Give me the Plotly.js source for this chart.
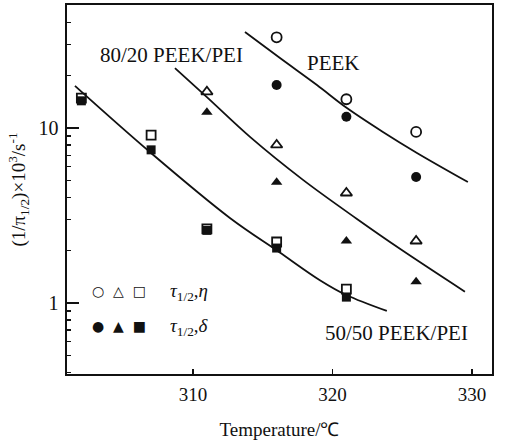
<!DOCTYPE html>
<html><head><meta charset="utf-8">
<script src="https://cdn.plot.ly/plotly-3.0.1.min.js"></script>
<style>html,body{margin:0;padding:0;background:#fff}</style>
</head><body><div id="chart" style="width:506px;height:441px"></div>
<script>
// measured points (temperature in °C, rate ×10^3 s^-1)
const tempPEEK = [316, 321, 326];
const peekEta = [33.0, 14.6, 9.5];
const peekDelta = [17.6, 11.6, 5.25];
const temp8020 = [311, 316, 321, 326];
const blend8020Eta = [16.1, 8.0, 4.25, 2.26];
const blend8020Delta = [12.3, 4.9, 2.26, 1.32];
const temp5050 = [302, 307, 311, 316, 321];
const blend5050Eta = [14.8, 9.1, 2.65, 2.23, 1.2];
const blend5050Delta = [14.3, 7.5, 2.6, 2.06, 1.08];
// fitted curves
const fitPEEKT = [313.73, 316.24, 318.89, 321.04, 323.62, 326.06, 329.71];
const fitPEEKY = [35.4, 25.1, 17.6, 13.0, 9.49, 7.2, 4.91];
const fit8020T = [308.71, 311.0, 314.09, 317.89, 321.76, 324.84, 329.5];
const fit8020Y = [22.0, 15.0, 8.89, 5.05, 3.02, 2.04, 1.16];
const fit5050T = [301.54, 306.9, 312.65, 316.2, 319.1, 321.0, 323.9];
const fit5050Y = [17.4, 7.3, 3.06, 1.95, 1.35, 1.11, 0.90];
// ticks
const xTickVals = [310, 320, 330];
const yTickVals = [1, 10];
const yTickText = ['1', '10'];
const yMinorVals = [0.4, 0.5, 0.6, 0.7, 0.8, 0.9, 2, 3, 4, 5, 6, 7, 8, 9, 20, 30, 40, 50];

const serif = 'Liberation Serif, Times New Roman, serif';
const ink = '#111';

function fit(x, y) {
  return {x: x, y: y, mode: 'lines', type: 'scatter', line: {color: ink, width: 1.8, shape: 'spline', smoothing: 1}, showlegend: false, hoverinfo: 'skip'};
}
function pts(x, y, sym, size) {
  const open = sym.indexOf('open') >= 0;
  return {x: x, y: y, mode: 'markers', type: 'scatter', showlegend: false,
    marker: {symbol: sym, size: size, color: ink, line: {color: ink, width: open ? 1.8 : 0}}};
}

const data = [
  fit(fitPEEKT, fitPEEKY), fit(fit8020T, fit8020Y), fit(fit5050T, fit5050Y),
  pts(tempPEEK, peekDelta, 'circle', 10),
  pts(temp8020, blend8020Delta, 'triangle-up', 10),
  pts(temp5050, blend5050Delta, 'square', 9),
  pts(tempPEEK, peekEta, 'circle-open', 10),
  pts(temp8020, blend8020Eta, 'triangle-up-open', 10),
  pts(temp5050, blend5050Eta, 'square-open', 9)
];

function note(x, y, text, size, family, xanchor) {
  return {xref: 'paper', yref: 'paper', x: x, y: y, text: text, showarrow: false,
    xanchor: xanchor || 'center', yanchor: 'middle',
    font: {family: family || serif, size: size, color: ink}};
}

const layout = {
  width: 506, height: 441,
  margin: {l: 67, r: 14, t: 5, b: 67},
  paper_bgcolor: '#fff', plot_bgcolor: '#fff',
  font: {family: serif, color: ink},
  xaxis: {
    range: [300.97, 331.44], tickmode: 'array', tickvals: xTickVals,
    ticks: 'inside', ticklen: 5, tickwidth: 1.2, tickcolor: ink,
    showline: true, mirror: true, linewidth: 1.6, linecolor: ink,
    showgrid: false, zeroline: false, ticklabelstandoff: 3,
    tickfont: {family: serif, size: 19, color: ink},
    title: {text: 'Temperature/℃', font: {family: serif, size: 19, color: ink}, standoff: 18}
  },
  yaxis: {
    type: 'log', range: [-0.406, 1.703], tickmode: 'array', tickvals: yTickVals, ticktext: yTickText,
    ticks: 'inside', ticklen: 12, tickwidth: 1.4, tickcolor: ink,
    minor: {tickmode: 'array', tickvals: yMinorVals, ticks: 'inside', ticklen: 4, tickwidth: 1.2, tickcolor: ink, showgrid: false},
    showline: true, mirror: true, linewidth: 1.6, linecolor: ink,
    showgrid: false, zeroline: false, ticklabelstandoff: 3,
    tickfont: {family: serif, size: 20, color: ink},
    title: {text: '(1/π<sub>1/2</sub>)×10<sup>3</sup>/s<sup>-1</sup>', font: {family: serif, size: 19, color: ink}, standoff: 8}
  },
  annotations: [
    note(0.246, 0.8645, '80/20 PEEK/PEI', 21),
    note(0.626, 0.843, 'PEEK', 21),
    note(0.776, 0.111, '50/50 PEEK/PEI', 21),
    note(0.1235, 0.224, '○  △  □', 14, 'DejaVu Sans'),
    note(0.1235, 0.129, '●  ▲  ■', 14, 'DejaVu Sans'),
    note(0.2376, 0.222, '<i>τ</i><sub>1/2</sub>,<i>η</i>', 19, serif, 'left'),
    note(0.2376, 0.127, '<i>τ</i><sub>1/2</sub>,<i>δ</i>', 19, serif, 'left')
  ]
};

Plotly.newPlot('chart', data, layout, {staticPlot: true, displayModeBar: false});
</script></body></html>
